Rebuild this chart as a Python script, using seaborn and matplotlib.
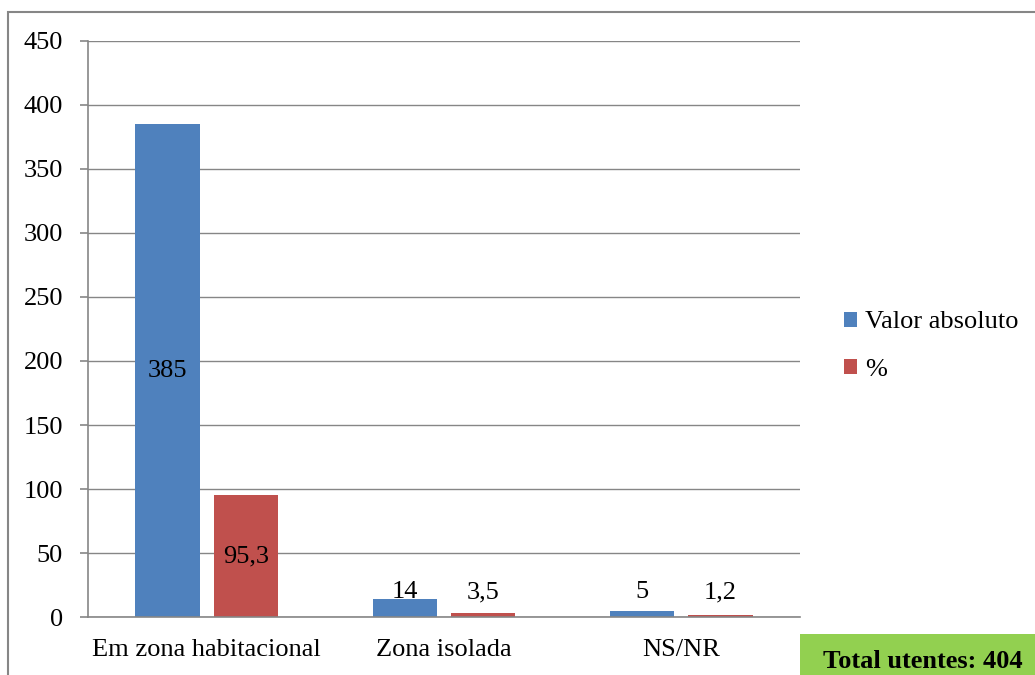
import matplotlib
matplotlib.use("Agg")
import matplotlib.pyplot as plt
from matplotlib.patches import Rectangle
import seaborn as sns
import pandas as pd
import numpy as np

categorias = ["Em zona habitacional", "Zona isolada", "NS/NR"]
series = ["Valor absoluto", "%"]
valor_absoluto = [385, 14, 5]
percentagem = [95.3, 3.5, 1.2]
y_ticks = list(range(0, 451, 50))
total_texto = "Total utentes: 404"

cores = ["#4F81BD", "#C0504D"]
grid_cor = "#868686"

df = pd.DataFrame({
    "categoria": categorias * 2,
    "serie": [series[0]] * 3 + [series[1]] * 3,
    "valor": valor_absoluto + percentagem,
})

sns.set_theme(style="white")
plt.rcParams["font.family"] = ["Liberation Serif", "DejaVu Serif"]
plt.rcParams["text.color"] = "black"
plt.rcParams["xtick.color"] = "black"
plt.rcParams["ytick.color"] = "black"
FS = 19

fig = plt.figure(figsize=(10.35, 6.75), dpi=100)
ax = fig.add_axes([88 / 1035, 58 / 675, 712 / 1035, 576 / 675])

sns.barplot(data=df, x="categoria", y="valor", hue="serie", palette=cores,
            width=0.66, gap=0.18, ax=ax, saturation=1, linewidth=0)

ax.set_ylim(0, 450)
ax.set_xlim(-0.5, 2.5)
ax.set_yticks(y_ticks)
ax.set_yticklabels([str(v) for v in y_ticks], fontsize=FS, color="black")
ax.set_xticks(range(3))
ax.set_xticklabels(categorias, fontsize=FS, color="black")
ax.set_xticks([-0.5, 0.5, 1.5, 2.5], minor=True)
ax.tick_params(axis="x", which="major", length=0, pad=16)
ax.tick_params(axis="x", which="minor", length=6, width=1.2, color=grid_cor, direction="out")
ax.tick_params(axis="y", which="major", length=6, width=1.2, color=grid_cor, direction="out",
               pad=12, left=True, labelcolor="black")
ax.set_xlabel("")
ax.set_ylabel("")
ax.yaxis.grid(True, color=grid_cor, linewidth=1.0)
ax.set_axisbelow(True)
for s in ["top", "right"]:
    ax.spines[s].set_visible(False)
for s in ["left", "bottom"]:
    ax.spines[s].set_color(grid_cor)
    ax.spines[s].set_linewidth(1.2)


def fmt(v):
    return f"{v:g}".replace(".", ",")


small_label_y = 19.5
for ci, container in enumerate(ax.containers):
    vals = valor_absoluto if ci == 0 else percentagem
    for patch, v in zip(container.patches, vals):
        xc = patch.get_x() + patch.get_width() / 2
        h = patch.get_height()
        y = h / 2 if h > 40 else small_label_y
        ax.text(xc, y, fmt(v), ha="center", va="center", fontsize=FS, color="black")

handles, labels = ax.get_legend_handles_labels()
if ax.get_legend() is not None:
    ax.get_legend().remove()
fig.legend(handles, labels, loc="center left", bbox_to_anchor=(833 / 1035, (675 - 346) / 675),
           frameon=False, fontsize=FS, handlelength=0.5, handleheight=0.5,
           handletextpad=0.3, labelspacing=0.95, borderaxespad=0, labelcolor="black")

# outer border of chart area
fig.add_artist(Rectangle((8 / 1035, -0.2), 1.2, (675 - 12) / 675 + 0.2, transform=fig.transFigure,
                         fill=False, edgecolor=grid_cor, linewidth=1.5))

# green total box
fig.add_artist(Rectangle((800 / 1035, -0.05), 0.3, (675 - 634) / 675 + 0.05, transform=fig.transFigure,
                         facecolor="#92D050", edgecolor="none"))
fig.text(923 / 1035, (675 - 661) / 675, total_texto, ha="center", va="center",
         fontsize=FS, fontweight="bold", color="black")

fig.savefig("out.png", dpi=100)
